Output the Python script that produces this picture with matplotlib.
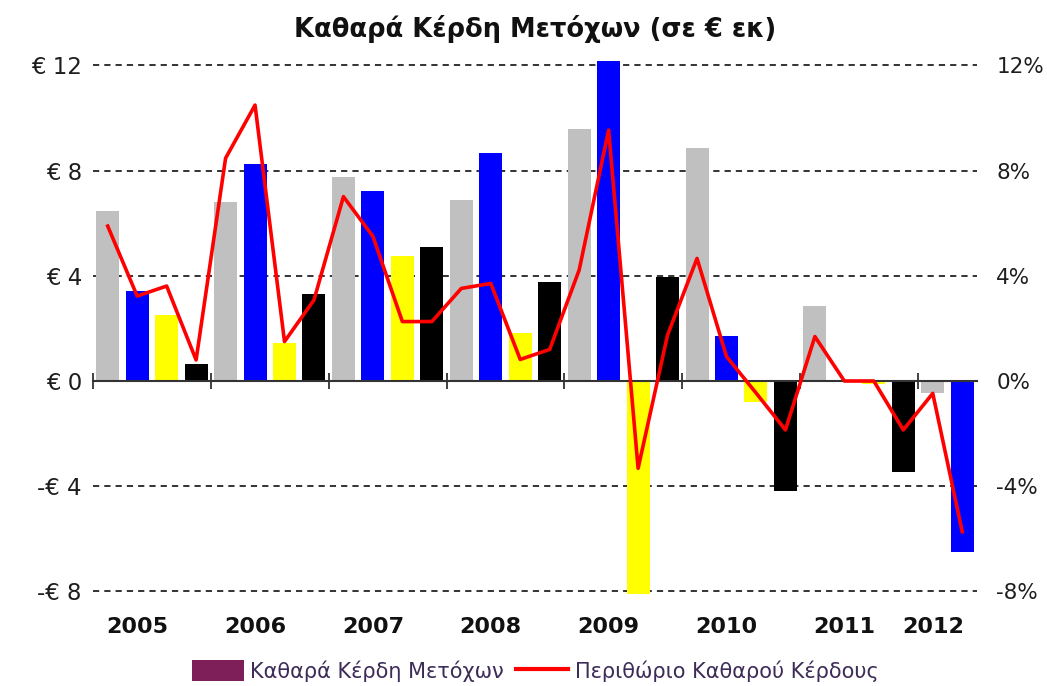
import matplotlib
matplotlib.use("agg")
import matplotlib.pyplot as plt
import matplotlib.transforms as mtransforms
from matplotlib.patches import Patch
from matplotlib.lines import Line2D
import numpy as np

plt.rcParams["font.family"] = ["DejaVu Sans"]

# quarterly data 2005 Q1 .. 2012 Q2
years = ["2005", "2006", "2007", "2008", "2009", "2010", "2011", "2012"]
quarters_per_year = [4, 4, 4, 4, 4, 4, 4, 2]

eps = [6.45, 3.41, 2.51, 0.65,
       6.79, 8.24, 1.43, 3.31,
       7.77, 7.24, 4.75, 5.11,
       6.88, 8.68, 1.81, 3.78,
       9.57, 12.18, -8.10, 3.95,
       8.85, 1.71, -0.79, -4.17,
       2.85, 0.00, -0.10, -3.45,
       -0.46, -6.49]

margin = [5.89, 3.23, 3.61, 0.80,
          8.47, 10.49, 1.50, 3.08,
          7.01, 5.50, 2.26, 2.26,
          3.52, 3.71, 0.82, 1.20,
          4.22, 9.54, -3.32, 1.75,
          4.66, 0.93, -0.45, -1.86,
          1.69, 0.00, 0.00, -1.86,
          -0.47, -5.73]

left_ticks = [-8, -4, 0, 4, 8, 12]
left_labels = ["-€ 8", "-€ 4", "€ 0", "€ 4", "€ 8", "€ 12"]
right_labels = ["-8%", "-4%", "0%", "4%", "8%", "12%"]

quarter_colors = ["#C0C0C0", "#0000FF", "#FFFF00", "#000000"]
text_color = "#1e1e1e"

fig = plt.figure(figsize=(10.47, 6.86), dpi=100)
ax = fig.add_axes([0.0888, 0.1302, 0.8443, 0.7860])

x = np.arange(len(eps))
colors = [quarter_colors[i % 4] for i in range(len(eps))]
ax.bar(x, eps, width=0.78, color=colors, zorder=2)

ax.set_xlim(-0.5, len(eps) - 0.5)
ax.set_ylim(-8.2, 12.3)

# dashed grid lines (except zero, which is the axis)
for v in left_ticks:
    if v != 0:
        ax.axhline(v, color="#333333", lw=1.4, ls=(0, (3.2, 2.6)), zorder=1)

for side in ["top", "left", "right"]:
    ax.spines[side].set_visible(False)
ax.spines["bottom"].set_position(("data", 0))
ax.spines["bottom"].set_color("#333333")
ax.spines["bottom"].set_linewidth(1.5)
ax.spines["bottom"].set_zorder(3)

starts = np.cumsum([0] + quarters_per_year[:-1])
ax.set_xticks(starts - 0.5)
ax.set_xticklabels([])
ax.tick_params(axis="x", direction="inout", length=11, width=1.3, color="#333333")

ax.set_yticks(left_ticks)
ax.set_yticklabels(left_labels)
ax.tick_params(axis="y", length=0, pad=8, labelsize=16.5, labelcolor=text_color)

trans = mtransforms.blended_transform_factory(ax.transData, ax.transAxes)
for yr, s, n in zip(years, starts, quarters_per_year):
    ax.text(s + (n - 1) // 2, -0.056, yr, transform=trans, ha="center", va="center",
            fontsize=16, fontweight="bold", color="#111111")

ax2 = ax.twinx()
ax2.set_ylim(ax.get_ylim())
ax2.plot(x, margin, color="#FF0000", lw=2.6, zorder=4)
for side in ["top", "left", "right", "bottom"]:
    ax2.spines[side].set_visible(False)
ax2.set_yticks(left_ticks)
ax2.set_yticklabels(right_labels)
ax2.tick_params(axis="y", length=0, pad=14, labelsize=15.5, labelcolor=text_color)

fig.text(0.511, 0.958, "Καθαρά Κέρδη Μετόχων (σε € εκ)", ha="center", va="center",
         fontsize=18.5, fontweight="bold", color="#111111")

handles = [Patch(facecolor="#7F1F5A", edgecolor="none"),
           Line2D([0], [0], color="#FF0000", lw=3)]
fig.legend(handles, ["Καθαρά Κέρδη Μετόχων", "Περιθώριο Καθαρού Κέρδους"],
           loc="center", bbox_to_anchor=(0.511, 0.022), ncol=2, frameon=False,
           fontsize=15, labelcolor="#3d2c58", handlelength=2.5, handleheight=1.2,
           handletextpad=0.3, columnspacing=0.6)

fig.savefig("out.png", dpi=100)
